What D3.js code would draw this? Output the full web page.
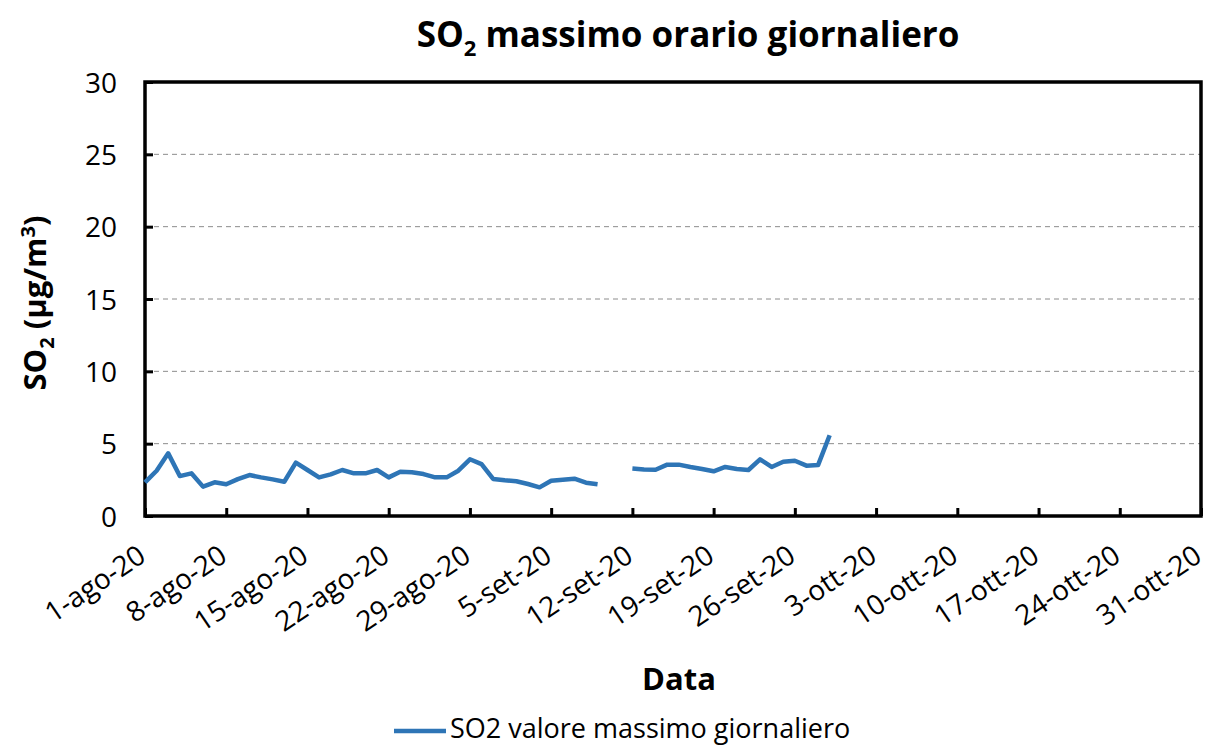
<!DOCTYPE html>
<html><head><meta charset="utf-8">
<script src="https://cdn.jsdelivr.net/npm/d3@7"></script>
<style>body{margin:0;background:#fff}svg{display:block}text{font-family:"Open Sans",sans-serif}</style>
</head><body><svg id="c" width="1208" height="746"></svg>
<script>
const startDate = "2020-08-01";
const seg1 = [2.33,3.13,4.33,2.76,2.95,2.03,2.33,2.19,2.55,2.83,2.67,2.53,2.37,3.69,3.18,2.67,2.88,3.18,2.95,2.95,3.18,2.67,3.06,3.02,2.90,2.67,2.67,3.13,3.92,3.59,2.56,2.47,2.40,2.21,1.98,2.44,2.51,2.58,2.30,2.19];
const missing = [null,null];
const seg2 = [3.29,3.22,3.20,3.55,3.55,3.39,3.25,3.09,3.39,3.25,3.18,3.92,3.39,3.75,3.82,3.48,3.52,5.58];
const values = seg1.concat(missing, seg2);
const monthNames = ["gen","feb","mar","apr","mag","giu","lug","ago","set","ott","nov","dic"];
const yTicks = [0,5,10,15,20,25,30];
const seriesName = "SO2 valore massimo giornaliero";

const svg = d3.select("#c");
const L=145,R=1201,T=82,B=516;
const d0 = new Date(startDate+"T00:00:00");
const dayMs = 86400000;
const dates = values.map((v,i)=>new Date(d0.getTime()+i*dayMs));
const x = d3.scaleTime().domain([d0, new Date(2020,9,31)]).range([L,R]);
const y = d3.scaleLinear().domain([0,30]).range([B,T]);
const xTicks = d3.range(0,14).map(k=>new Date(d0.getTime()+k*7*dayMs));
const fmt = d=>`${d.getDate()}-${monthNames[d.getMonth()]}-${String(d.getFullYear()).slice(2)}`;

// grid
svg.append("g").selectAll("line").data(yTicks.filter(t=>t>0&&t<30)).join("line")
  .attr("x1",L).attr("x2",R).attr("y1",d=>y(d)).attr("y2",d=>y(d))
  .attr("stroke","#8c8c8c").attr("stroke-width",1).attr("stroke-dasharray","5,4");

// axes
const yAxis = d3.axisLeft(y).tickValues(yTicks).tickSize(-8).tickPadding(28);
const gy = svg.append("g").attr("transform",`translate(${L},0)`).call(yAxis);
gy.select(".domain").remove();
gy.selectAll("line").attr("stroke","#000").attr("stroke-width",3);
gy.selectAll("text").attr("font-size",28).attr("fill","#000").attr("dy","0.36em");

const xAxis = d3.axisBottom(x).tickValues(xTicks).tickSize(-8).tickFormat(fmt);
const gx = svg.append("g").attr("transform",`translate(0,${B})`).call(xAxis);
gx.select(".domain").remove();
gx.selectAll("line").attr("stroke","#000").attr("stroke-width",3);
gx.selectAll("text").attr("font-size",28).attr("fill","#000")
  .attr("text-anchor","end").attr("dy",0).attr("y",0)
  .attr("transform","translate(2,44) rotate(-34)");

// frame
svg.append("rect").attr("x",L).attr("y",T).attr("width",R-L).attr("height",B-T)
  .attr("fill","none").attr("stroke","#000").attr("stroke-width",3.5);

// line
const line = d3.line().defined(d=>d.v!=null).x(d=>x(d.d)).y(d=>y(d.v));
svg.append("path").datum(values.map((v,i)=>({d:dates[i],v})))
  .attr("d",line).attr("fill","none").attr("stroke","#2E75B6").attr("stroke-width",4.5).attr("stroke-linejoin","round");

// title
const t = svg.append("text").attr("x",688).attr("y",47).attr("text-anchor","middle")
  .attr("font-size",35).attr("font-weight","bold");
t.append("tspan").text("SO");
t.append("tspan").attr("font-size",22).attr("dy",9).text("2");
t.append("tspan").attr("dy",-9).text(" massimo orario giornaliero");

// y label
const yl = svg.append("text").attr("transform","translate(46,303) rotate(-90)").attr("text-anchor","middle")
  .attr("font-size",31).attr("font-weight","bold");
yl.append("tspan").text("SO");
yl.append("tspan").attr("font-size",20).attr("dy",8).text("2");
yl.append("tspan").attr("dy",-8).text(" (µg/m");
yl.append("tspan").attr("font-size",20).attr("dy",-11).text("3");
yl.append("tspan").attr("dy",11).text(")");

svg.append("text").attr("x",679).attr("y",690).attr("text-anchor","middle")
  .attr("font-size",31).attr("font-weight","bold").text("Data");

// legend
svg.append("line").attr("x1",394).attr("x2",446).attr("y1",731).attr("y2",731)
  .attr("stroke","#2E75B6").attr("stroke-width",4.5);
svg.append("text").attr("x",450).attr("y",738).attr("font-size",27).text(seriesName);
</script></body></html>
